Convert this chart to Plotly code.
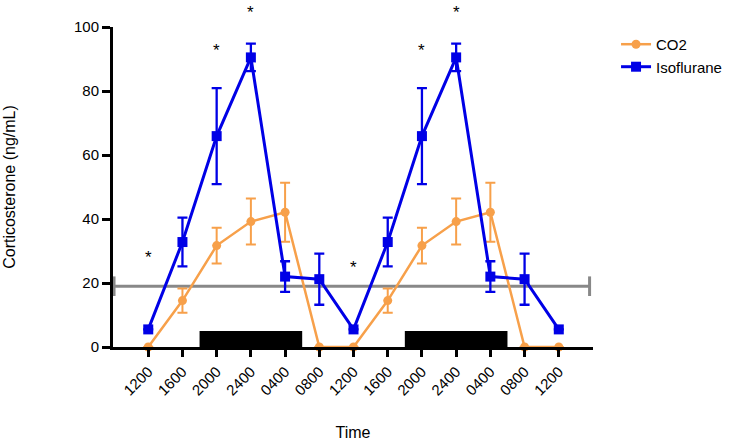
import plotly.graph_objects as go

tick_labels = ["1200", "1600", "2000", "2400", "0400", "0800", "1200",
               "1600", "2000", "2400", "0400", "0800", "1200"]
x_idx = list(range(len(tick_labels)))

co2_mean = [0, 14.5, 31.7, 39.2, 42.1, 0, 0, 14.5, 31.7, 39.2, 42.1, 0, 0]
co2_err = [0, 3.8, 5.6, 7.2, 9.2, 0, 0, 3.8, 5.6, 7.2, 9.2, 0, 0]

iso_mean = [5.5, 32.8, 65.9, 90.5, 22.0, 21.2, 5.5, 32.8, 65.9, 90.5, 22.0, 21.2, 5.5]
iso_err = [0, 7.6, 15.0, 4.3, 4.8, 8.0, 0, 7.6, 15.0, 4.3, 4.8, 8.0, 0]

ref_level = 19
ref_x = [-1.0, 12.9]

dark_start = [1.5, 7.5]
dark_end = [4.5, 10.5]
dark_height = 5

star_x = [0, 2, 3, 6, 8, 9]
star_y = [28.7, 93.4, 105.0, 25.6, 93.4, 105.0]

FONT = "Liberation Sans, Arial, sans-serif"
ORANGE = "#F7A04A"
BLUE = "#0000E6"
GRAY = "#888888"
Y_MAX = 100

fig = go.Figure()

# reference level line with end caps
fig.add_trace(go.Scatter(
    x=ref_x, y=[ref_level] * len(ref_x), mode="lines+markers",
    line=dict(color=GRAY, width=3),
    marker=dict(symbol="line-ns", size=14, line=dict(color=GRAY, width=3)),
    showlegend=False, cliponaxis=False, hoverinfo="skip"))

fig.add_trace(go.Scatter(
    x=x_idx, y=co2_mean, name="CO2", mode="lines+markers",
    line=dict(color=ORANGE, width=2.5),
    marker=dict(symbol="circle", size=9, color=ORANGE),
    error_y=dict(type="data", array=co2_err, color=ORANGE, thickness=2, width=5),
    cliponaxis=False))

fig.add_trace(go.Scatter(
    x=x_idx, y=iso_mean, name="Isoflurane", mode="lines+markers",
    line=dict(color=BLUE, width=3),
    marker=dict(symbol="square", size=10, color=BLUE),
    error_y=dict(type="data", array=iso_err, color=BLUE, thickness=2.3, width=5),
    cliponaxis=False))

for s, e in zip(dark_start, dark_end):
    fig.add_shape(type="rect", xref="x", yref="y", x0=s, x1=e, y0=0, y1=dark_height,
                  fillcolor="black", line=dict(width=0), layer="below")

for sx, sy in zip(star_x, star_y):
    fig.add_annotation(x=sx, y=sy / Y_MAX, xref="x", yref="paper", text="*",
                       xanchor="center", yanchor="middle", yshift=-2,
                       showarrow=False, font=dict(family=FONT, size=17, color="black"))

fig.update_layout(
    width=746, height=444,
    margin=dict(l=113, r=153, t=27, b=97, autoexpand=False),
    plot_bgcolor="white", paper_bgcolor="white",
    font=dict(family=FONT, color="black", size=14),
    legend=dict(x=1.048, y=0.997, xanchor="left", yanchor="top",
                font=dict(family=FONT, size=15), bgcolor="rgba(0,0,0,0)",
                tracegroupgap=2),
    xaxis=dict(range=[-1.03, 13.0], tickmode="array", tickvals=x_idx, ticktext=tick_labels,
               tickangle=-45, ticks="outside", ticklen=7, tickwidth=2.5, tickcolor="black",
               showline=True, linecolor="black", linewidth=3, showgrid=False, zeroline=False,
               tickfont=dict(size=15), automargin=False,
               title=dict(text="Time", font=dict(size=16), standoff=30)),
    yaxis=dict(range=[0, Y_MAX], tickvals=[0, 20, 40, 60, 80, 100], ticks="outside",
               ticklen=8, tickwidth=2.5, tickcolor="black", showline=True,
               linecolor="black", linewidth=3, showgrid=False, zeroline=False,
               tickfont=dict(size=15), automargin=False,
               title=dict(text="Corticosterone (ng/mL)", font=dict(size=16), standoff=55)),
)

fig.write_html("out.html", config={"displayModeBar": False},
               post_script="document.body.style.margin='0';document.body.style.padding='0';")
